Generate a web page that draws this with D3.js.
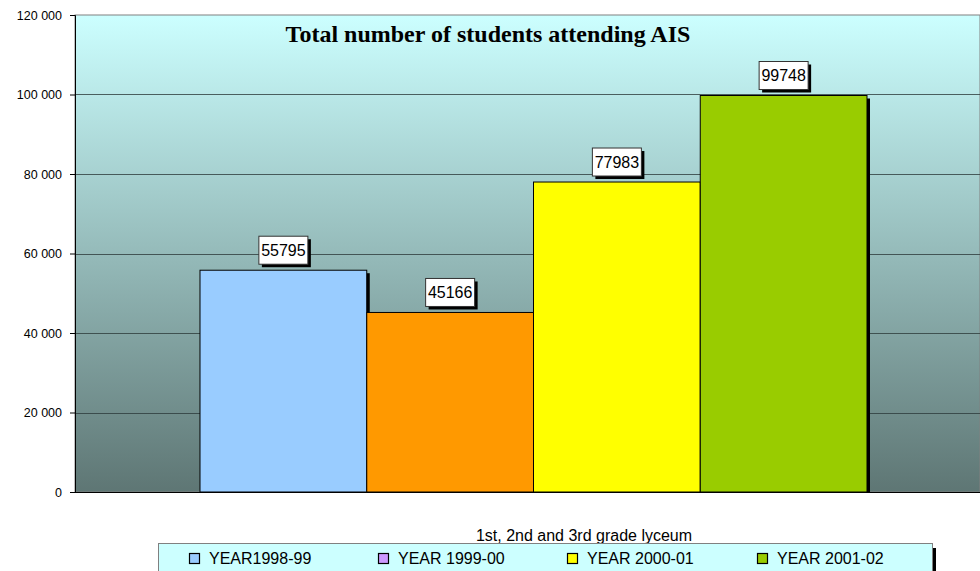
<!DOCTYPE html>
<html>
<head>
<meta charset="utf-8">
<script src="https://cdn.jsdelivr.net/npm/d3@7"></script>
<style>
  body { margin: 0; background: #fff; }
  svg { display: block; font-family: Arial, "Liberation Sans", sans-serif; }
</style>
</head>
<body>
<svg id="chart" width="980" height="571"></svg>
<script>
const categories = ['YEAR1998-99', 'YEAR 1999-00', 'YEAR 2000-01', 'YEAR 2001-02'];
const values = [55795, 45166, 77983, 99748];
const barColors = ['#99ccff', '#ff9900', '#ffff00', '#99cc00'];
const legendColors = ['#99ccff', '#cc99ff', '#ffff00', '#99cc00'];
const yTicks = [0, 20000, 40000, 60000, 80000, 100000, 120000];

const svg = d3.select('#chart');
const plot = { left: 75, top: 15, right: 980, bottom: 492 };

const y = d3.scaleLinear().domain([0, 120000]).range([plot.bottom, plot.top]);
const x = d3.scaleBand().domain(categories).range([200, 867]).padding(0);

// background gradient
const defs = svg.append('defs');
const grad = defs.append('linearGradient')
    .attr('id', 'bg').attr('x1', 0).attr('y1', 0).attr('x2', 0).attr('y2', 1);
grad.append('stop').attr('offset', '0%').attr('stop-color', '#ccffff');
grad.append('stop').attr('offset', '100%').attr('stop-color', '#5e7674');

svg.append('rect')
    .attr('x', plot.left).attr('y', plot.top)
    .attr('width', plot.right - plot.left).attr('height', plot.bottom - plot.top)
    .attr('fill', 'url(#bg)')
    .attr('stroke', '#808080').attr('stroke-width', 1);

// gridlines
svg.append('g')
    .selectAll('line')
    .data(yTicks.filter(d => d > 0 && d < 120000))
    .enter()
    .append('line')
    .attr('x1', plot.left).attr('x2', plot.right)
    .attr('y1', d => Math.round(y(d)) + 0.5).attr('y2', d => Math.round(y(d)) + 0.5)
    .attr('stroke', '#2e3c3c').attr('stroke-opacity', 0.8).attr('stroke-width', 1);

// y axis
const yAxis = svg.append('g')
    .attr('transform', `translate(${plot.left},0)`)
    .call(d3.axisLeft(y).tickValues(yTicks).tickSize(5).tickPadding(8)
        .tickFormat(d => d3.format(',')(d).replace(/,/g, ' ')));
yAxis.select('.domain').attr('stroke', '#000');
yAxis.selectAll('text').attr('font-size', 12.5).attr('fill', '#000')
    .attr('font-family', 'Arial, "Liberation Sans", sans-serif');

// bottom axis line
svg.append('line')
    .attr('x1', plot.left).attr('x2', plot.right)
    .attr('y1', plot.bottom + 0.5).attr('y2', plot.bottom + 0.5)
    .attr('stroke', '#000');

const data = categories.map((c, i) => ({ cat: c, value: values[i], color: barColors[i] }));

// bar shadows
svg.append('g')
    .selectAll('rect')
    .data(data)
    .enter()
    .append('rect')
    .attr('x', d => x(d.cat) + 3)
    .attr('y', d => y(d.value) + 3)
    .attr('width', x.bandwidth())
    .attr('height', d => plot.bottom - y(d.value) - 3)
    .attr('fill', '#000');

// bars
svg.append('g')
    .selectAll('rect')
    .data(data)
    .enter()
    .append('rect')
    .attr('x', d => x(d.cat))
    .attr('y', d => y(d.value))
    .attr('width', x.bandwidth())
    .attr('height', d => plot.bottom - y(d.value))
    .attr('fill', d => d.color)
    .attr('stroke', '#000').attr('stroke-width', 1);

// value labels
const lbl = svg.append('g')
    .selectAll('g')
    .data(data)
    .enter()
    .append('g')
    .attr('transform', d => `translate(${x(d.cat) + x.bandwidth() / 2},${y(d.value) - 20})`);
lbl.append('rect')
    .attr('x', -24.5 + 3).attr('y', -14 + 3).attr('width', 49).attr('height', 28)
    .attr('fill', '#000');
lbl.append('rect')
    .attr('x', -24.5).attr('y', -14).attr('width', 49).attr('height', 28)
    .attr('fill', '#fff').attr('stroke', '#333');
lbl.append('text')
    .attr('text-anchor', 'middle').attr('dy', '0.35em')
    .attr('font-size', 16).attr('fill', '#000')
    .text(d => d.value);

// title
svg.append('text')
    .attr('x', 488).attr('y', 42)
    .attr('text-anchor', 'middle')
    .attr('font-family', '"Liberation Serif", "Times New Roman", serif')
    .attr('font-weight', 'bold').attr('font-size', 24)
    .text('Total number of students attending AIS');

// x axis title
svg.append('text')
    .attr('x', 584).attr('y', 541)
    .attr('text-anchor', 'middle')
    .attr('font-size', 16)
    .text('1st, 2nd and 3rd grade lyceum');

// legend
svg.append('rect')
    .attr('x', 162).attr('y', 548).attr('width', 774).attr('height', 40)
    .attr('fill', '#000');
svg.append('rect')
    .attr('x', 158.5).attr('y', 543.5).attr('width', 774).attr('height', 40)
    .attr('fill', '#ccffff').attr('stroke', '#808080');

const legendX = [189, 378, 567, 757];
const leg = svg.append('g')
    .selectAll('g')
    .data(categories)
    .enter()
    .append('g')
    .attr('transform', (d, i) => `translate(${legendX[i]},553)`);
leg.append('rect')
    .attr('x', 0.5).attr('y', 0.5).attr('width', 10).attr('height', 10)
    .attr('fill', (d, i) => legendColors[i])
    .attr('stroke', '#000').attr('stroke-width', 1.2);
leg.append('text')
    .attr('x', 20).attr('y', 11)
    .attr('font-size', 16)
    .text(d => d);
</script>
</body>
</html>
